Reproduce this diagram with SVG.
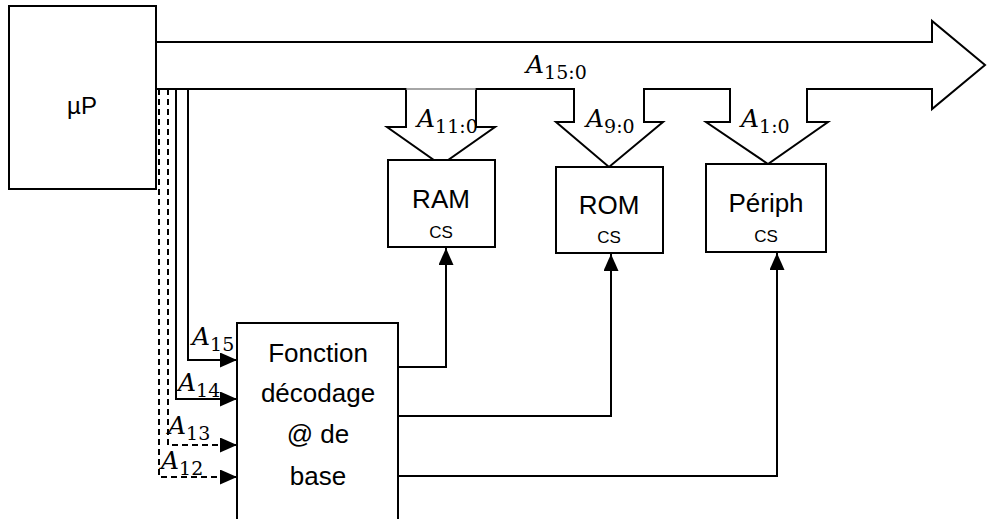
<svg xmlns="http://www.w3.org/2000/svg" width="987" height="519" viewBox="0 0 987 519">
<style>
.box{fill:#fff;stroke:#000;stroke-width:2}
.ln{fill:none;stroke:#000;stroke-width:2}
.dash{fill:none;stroke:#000;stroke-width:2;stroke-dasharray:6 4}
.lbl{font-family:"Liberation Sans",Arial,sans-serif;fill:#000}
.big{font-size:26px}
.sm{font-size:17px}
.m{font-family:"DejaVu Serif","Liberation Serif",serif;fill:#000}
.mi{font-style:italic;font-size:25px}
.ms{font-size:19px}
</style>
<defs>
<marker id="ah" viewBox="0 0 17 15" refX="17" refY="7.5" markerWidth="17" markerHeight="15" markerUnits="userSpaceOnUse" orient="auto">
<path d="M0,0 L17,7.5 L0,15 Z" fill="#000"/>
</marker>
</defs>
<g id="connectors">
<path id="bus" d="M156,42 L932,42 L932,21 L985,65 L932,109 L932,89 L807,89 L807,122 L828,122 L768,164 L706,122 L730,122 L730,89 L644,89 L644,122 L663,122 L609,167 L556,122 L574,122 L574,89 L476,89 L476,127 L495,127 L441,165 L387,127 L406,127 L406,89 L156,89" fill="#fff" stroke="#000" stroke-width="2"/>
<line x1="406" y1="89" x2="476" y2="89" stroke="#888" stroke-width="1.5"/>
<path class="ln" d="M188,89 L188,360 L237,360" marker-end="url(#ah)"/>
<path class="ln" d="M176,89 L176,399 L237,399" marker-end="url(#ah)"/>
<path class="dash" d="M168,89 L168,445 L237,445" marker-end="url(#ah)"/>
<path class="dash" d="M159,89 L159,477 L237,477" marker-end="url(#ah)"/>
<path class="ln" d="M398,367 L446,367 L446,248" marker-end="url(#ah)"/>
<path class="ln" d="M398,416 L611,416 L611,254" marker-end="url(#ah)"/>
<path class="ln" d="M398,476 L777,476 L777,253" marker-end="url(#ah)"/>
</g>
<g id="up">
<rect class="box" x="9" y="6" width="147" height="183"/>
<text class="lbl" x="82" y="114" font-size="24" text-anchor="middle">µP</text>
</g>
<g id="ram">
<rect class="box" x="388" y="160" width="107" height="87"/>
<text class="lbl big" x="441" y="208" text-anchor="middle">RAM</text>
<text class="lbl sm" x="441" y="238" text-anchor="middle">CS</text>
</g>
<g id="rom">
<rect class="box" x="556" y="167" width="107" height="86"/>
<text class="lbl big" x="609" y="214" text-anchor="middle">ROM</text>
<text class="lbl sm" x="609" y="243" text-anchor="middle">CS</text>
</g>
<g id="periph">
<rect class="box" x="706" y="164" width="120" height="88"/>
<text class="lbl big" x="766" y="212" text-anchor="middle">Périph</text>
<text class="lbl sm" x="766" y="242" text-anchor="middle">CS</text>
</g>
<g id="decodeur">
<rect class="box" x="237" y="323" width="161" height="210"/>
<text class="lbl big" x="318" y="362" text-anchor="middle">Fonction</text>
<text class="lbl big" x="318" y="402" text-anchor="middle">décodage</text>
<text class="lbl big" x="318" y="443" text-anchor="middle">@ de</text>
<text class="lbl big" x="318" y="485" text-anchor="middle">base</text>
</g>
<g id="labels">
<text class="m" x="526" y="73"><tspan class="mi">A</tspan><tspan class="ms" dy="6">15:0</tspan></text>
<text class="m" x="417" y="127"><tspan class="mi">A</tspan><tspan class="ms" dy="6">11:0</tspan></text>
<text class="m" x="586" y="127"><tspan class="mi">A</tspan><tspan class="ms" dy="6">9:0</tspan></text>
<text class="m" x="741" y="127"><tspan class="mi">A</tspan><tspan class="ms" dy="6">1:0</tspan></text>
<text class="m" x="192" y="345"><tspan class="mi">A</tspan><tspan class="ms" dy="6">15</tspan></text>
<text class="m" x="178" y="391"><tspan class="mi">A</tspan><tspan class="ms" dy="6">14</tspan></text>
<text class="m" x="168" y="434"><tspan class="mi">A</tspan><tspan class="ms" dy="6">13</tspan></text>
<text class="m" x="161" y="469"><tspan class="mi">A</tspan><tspan class="ms" dy="6">12</tspan></text>
</g>
</svg>
